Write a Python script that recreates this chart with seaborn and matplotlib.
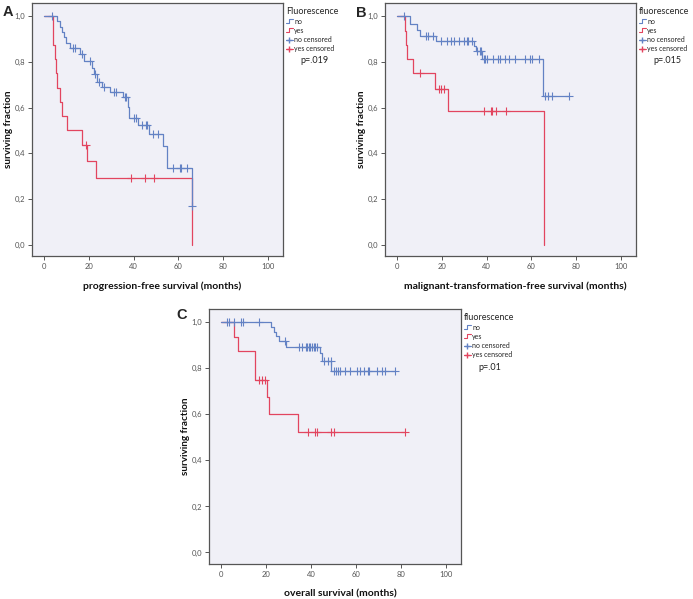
import matplotlib
matplotlib.use('Agg')
import matplotlib.pyplot as plt
from matplotlib.legend_handler import HandlerBase
from matplotlib.lines import Line2D
import numpy as np
import pandas as pd
import seaborn as sns

# Kaplan-Meier steps: drop time, level after the drop
# (each curve starts at time 0 with 1.0; last entry = where the line stops)

# A: progression-free survival
a_no_t = [0, 5.8, 7.0, 8.2, 9.0, 10.0, 11.5, 15.9, 17.7, 21.4, 22.4, 23.6, 25.8, 29.6,
          35.5, 37.4, 38.1, 42.2, 46.7, 53.3, 54.8, 66.3]
a_no_s = [1.0, 0.977, 0.953, 0.930, 0.907, 0.884, 0.861, 0.835, 0.805, 0.773, 0.746, 0.713,
          0.688, 0.668, 0.645, 0.601, 0.554, 0.522, 0.484, 0.43, 0.336, 0.17]
a_no_cens = [3.5, 12.9, 14.0, 17.0, 20.4, 22.9, 24.8, 26.9, 31.1, 32.2, 36.3, 36.7, 40.0,
             41.2, 43.7, 45.6, 46.1, 48.9, 50.7, 57.8, 60.8, 61.1, 64.0, 66.3]
a_yes_t = [0, 3.9, 4.1, 4.8, 5.6, 5.9, 7.3, 8.0, 10.2, 16.9, 19.2, 23.3, 66.3]
a_yes_s = [1.0, 0.9375, 0.875, 0.8125, 0.75, 0.6875, 0.625, 0.5625, 0.5, 0.4375, 0.3646,
           0.2917, 0.0]
a_yes_cens = [19.0, 38.9, 44.9, 49.3]

# B: malignant-transformation-free survival
b_no_t = [0, 6.0, 9.0, 10.5, 17.4, 34.6, 35.2, 38.0, 65.0, 76.7]
b_no_s = [1.0, 0.966, 0.94, 0.915, 0.893, 0.87, 0.847, 0.813, 0.65, 0.65]
b_no_cens = [3.4, 13.0, 13.7, 16.3, 19.6, 22.3, 24.0, 25.5, 27.7, 29.9, 31.1, 31.7, 33.6,
             35.8, 37.0, 37.7, 38.7, 39.5, 40.2, 42.9, 44.9, 46.1, 48.3, 50.2, 52.7, 57.1,
             59.6, 60.5, 63.5, 66.0, 67.5, 69.4, 76.7]
b_yes_t = [0, 3.8, 4.1, 4.4, 7.1, 17.0, 23.0, 65.7]
b_yes_s = [1.0, 0.9375, 0.875, 0.8125, 0.75, 0.682, 0.584, 0.0]
b_yes_cens = [10.3, 18.6, 19.9, 21.0, 38.7, 42.0, 42.4, 44.3, 48.7]

# C: overall survival
c_no_t = [0, 22.1, 23.6, 24.3, 25.8, 29.0, 44.2, 44.9, 49.1, 77.4]
c_no_s = [1.0, 0.98, 0.96, 0.94, 0.917, 0.895, 0.866, 0.832, 0.789, 0.789]
c_no_cens = [2.9, 3.7, 5.6, 8.8, 9.9, 16.7, 28.5, 34.7, 36.1, 37.6, 38.3, 39.1, 39.8, 40.6,
             41.3, 42.0, 42.8, 45.7, 47.6, 48.7, 50.4, 51.2, 52.0, 52.7, 55.3, 57.5, 60.5,
             61.9, 63.4, 65.3, 65.6, 69.3, 71.5, 72.7, 77.4]
c_yes_t = [0, 5.6, 7.4, 15.2, 20.6, 21.4, 34.4, 81.9]
c_yes_s = [1.0, 0.9375, 0.875, 0.75, 0.675, 0.6, 0.525, 0.525]
c_yes_cens = [17.0, 18.1, 19.6, 38.6, 42.0, 42.8, 48.7, 50.1, 81.9]

BLUE = '#6382c4'
RED = '#e2455f'
BG = '#f0f0f7'

sns.set_theme(style='white')
plt.rcParams['font.family'] = ['Lato', 'DejaVu Sans']


class StepHandler(HandlerBase):
    # small step-shaped legend icon, like the SPSS legend
    def create_artists(self, legend, orig_handle, xdescent, ydescent, width, height,
                       fontsize, trans):
        x0, x1 = -xdescent, -xdescent + width
        y0, y1 = -ydescent + 0.15 * height, -ydescent + 0.95 * height
        xm = x0 + 0.45 * width
        line = Line2D([x0, xm, xm, x1], [y0, y0, y1, y1], color=orig_handle.get_color(),
                      lw=orig_handle.get_linewidth(), transform=trans)
        return [line]


def level_at(ts, ss, x):
    i = np.searchsorted(ts, x, side='right') - 1
    return ss[i]


def km_panel(ax, xlabel, leg_title, pval, no_t, no_s, no_c, yes_t, yes_s, yes_c):
    ax.set_facecolor(BG)
    for t, s, c, col in [(yes_t, yes_s, yes_c, RED), (no_t, no_s, no_c, BLUE)]:
        df = pd.DataFrame({'t': t, 's': s})
        sns.lineplot(data=df, x='t', y='s', ax=ax, color=col, lw=0.9, estimator=None,
                     sort=False, drawstyle='steps-post')
        cens = pd.DataFrame({'t': c, 's': [level_at(t, s, x) for x in c]})
        sns.scatterplot(data=cens, x='t', y='s', ax=ax, color=col, marker='+', s=28,
                        linewidth=0.8, zorder=3)

    ax.set_xlim(-5.3, 106.7)
    ax.set_ylim(-0.05, 1.058)
    ax.set_xticks(range(0, 101, 20))
    ax.set_yticks(np.arange(0, 1.01, 0.2))
    ax.set_yticklabels([f'{v:.1f}'.replace('.', ',') for v in np.arange(0, 1.01, 0.2)])
    ax.tick_params(axis='both', which='major', length=3, width=0.7, color='#555555',
                   labelsize=5.5, labelcolor='#555555', pad=2, bottom=True, left=True)
    for sp in ax.spines.values():
        sp.set_color('#555555')
        sp.set_linewidth(0.9)

    ax.set_xlabel(xlabel, fontsize=7.5, fontweight='bold', color='#111111')
    ax.set_ylabel('surviving fraction', fontsize=7.2, fontweight='bold', color='#111111')
    ax.xaxis.set_label_coords(0.52, -0.1)
    ax.yaxis.set_label_coords(-0.075, 0.5)

    no_step = Line2D([], [], color=BLUE, lw=0.8)
    yes_step = Line2D([], [], color=RED, lw=0.8)
    handles = [
        no_step,
        yes_step,
        Line2D([], [], color=BLUE, lw=0.8, marker='+', markersize=5),
        Line2D([], [], color=RED, lw=0.8, marker='+', markersize=5),
    ]
    ax.legend(handles, ['no', 'yes', 'no censored', 'yes censored'], title=leg_title,
              loc='upper left', bbox_to_anchor=(1.012, 0.985), frameon=False, fontsize=5,
              title_fontsize=6.5, handlelength=1.0, handletextpad=0.2, labelspacing=0.3,
              borderaxespad=0, borderpad=0, alignment='left',
              handler_map={no_step: StepHandler(), yes_step: StepHandler()})
    ax.text(1.068, 0.762, pval, transform=ax.transAxes, fontsize=6.5, color='#222222')


fig = plt.figure(figsize=(6.93, 5.99), dpi=100)
ax_a = fig.add_axes([32 / 693, 1 - 256 / 599, 251 / 693, 253 / 599])
ax_b = fig.add_axes([385 / 693, 1 - 256 / 599, 251 / 693, 253 / 599])
ax_c = fig.add_axes([209 / 693, 1 - 564 / 599, 252 / 693, 255 / 599])

km_panel(ax_a, 'progression-free survival (months)', 'Fluorescence', 'p=.019',
         a_no_t, a_no_s, a_no_cens, a_yes_t, a_yes_s, a_yes_cens)
km_panel(ax_b, 'malignant-transformation-free survival (months)', 'fluorescence',
         'p=.015', b_no_t, b_no_s, b_no_cens, b_yes_t, b_yes_s, b_yes_cens)
km_panel(ax_c, 'overall survival (months)', 'fluorescence', 'p=.01',
         c_no_t, c_no_s, c_no_cens, c_yes_t, c_yes_s, c_yes_cens)

# panel letters
for letter, px, py in [('A', 3, 5), ('B', 356, 6), ('C', 176, 308)]:
    fig.text(px / 693, 1 - py / 599, letter, fontsize=10.5, fontweight='bold',
             family='Liberation Sans', ha='left', va='top')

fig.savefig('out.png', dpi=100, facecolor='white')
